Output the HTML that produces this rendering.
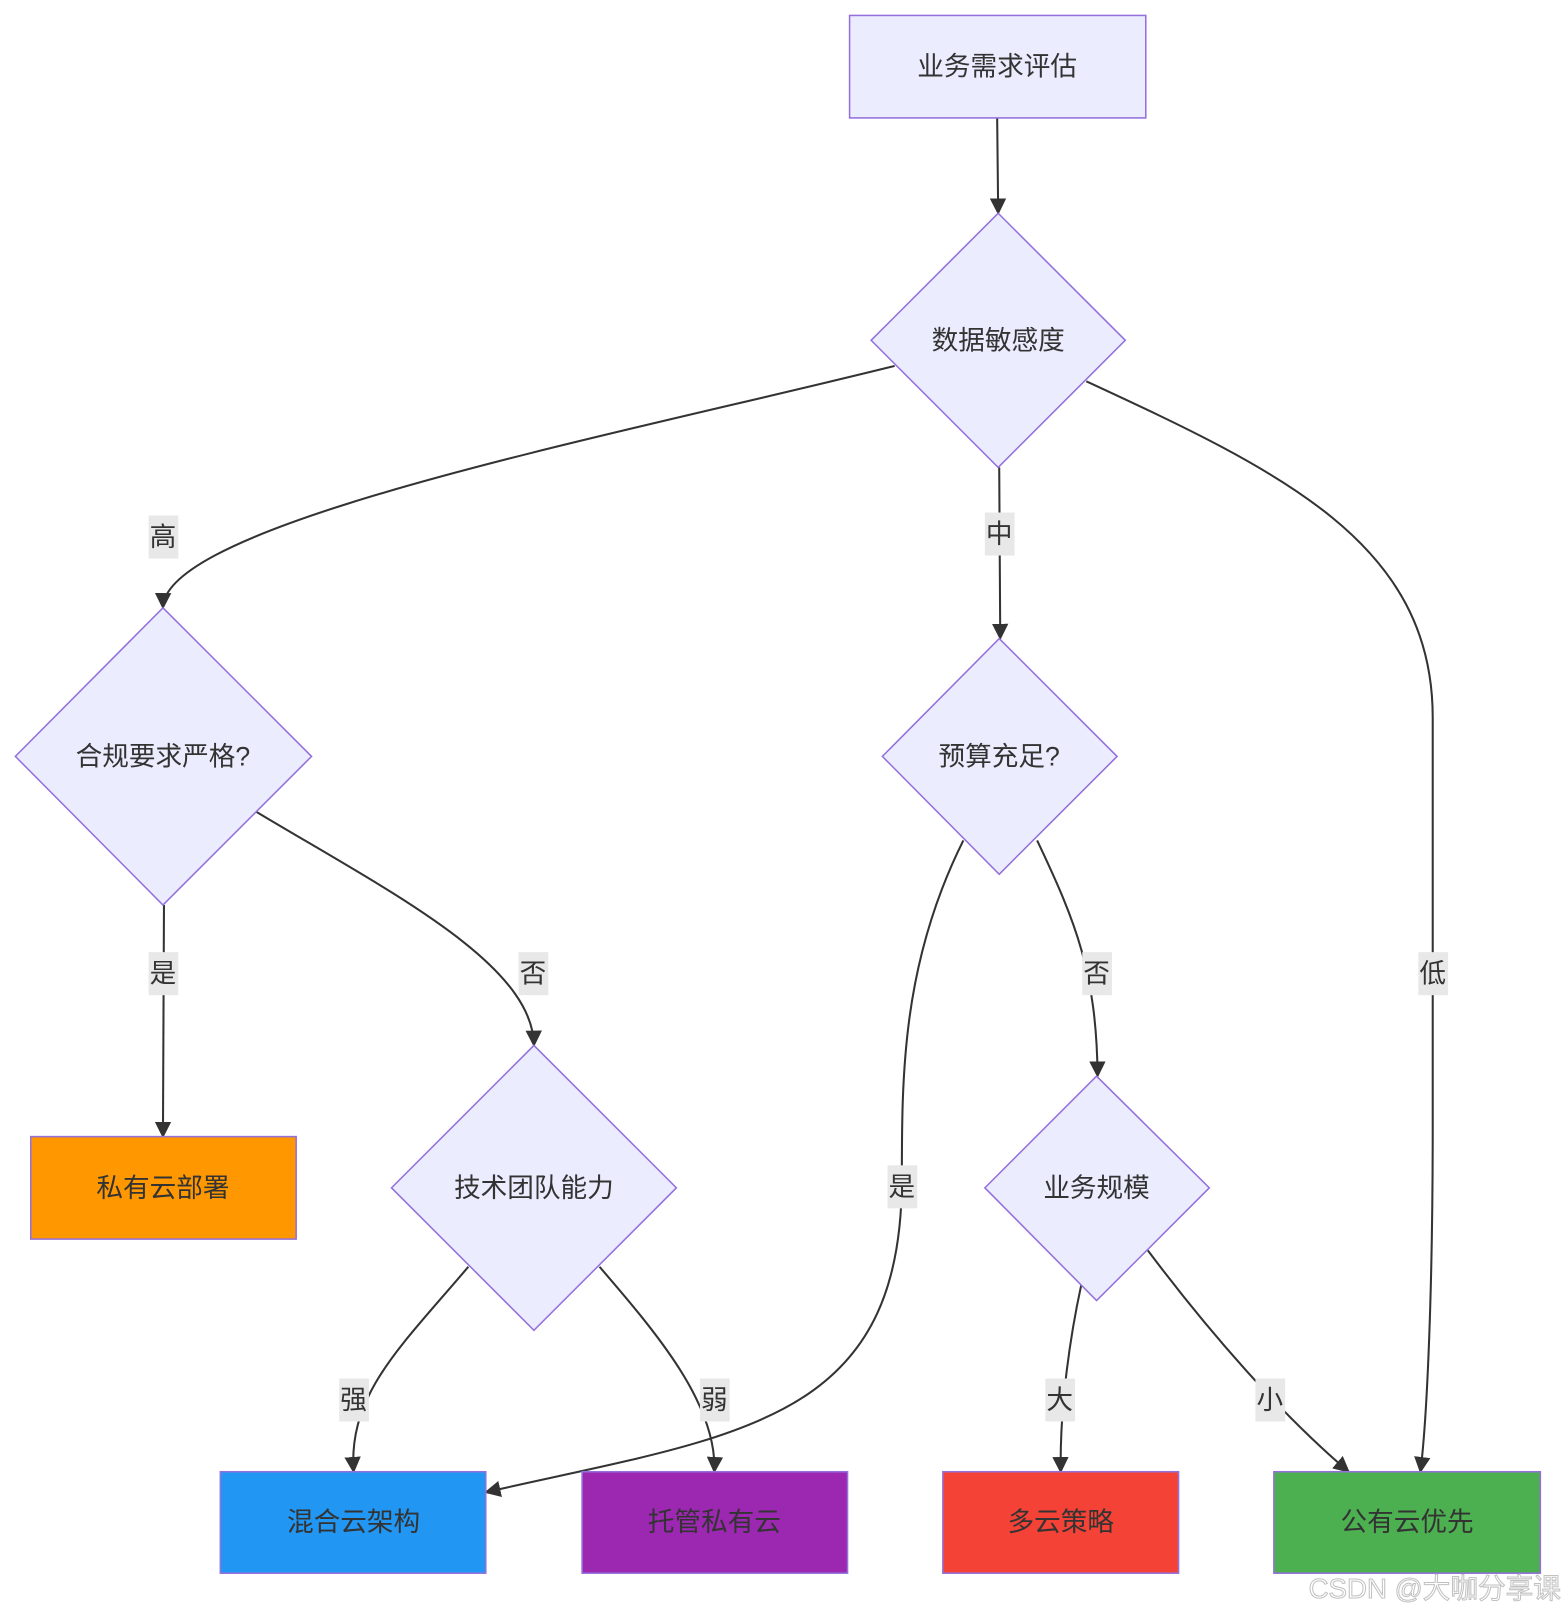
<!DOCTYPE html>
<html><head><meta charset="utf-8"><style>
html,body{margin:0;padding:0;background:#fff;}
svg{display:block;}
text{font-family:"Liberation Sans","Noto Sans CJK SC",sans-serif;fill:#333;}
</style></head><body>
<svg width="1568" height="1604" viewBox="0 0 1530 1565" xmlns="http://www.w3.org/2000/svg">
<defs><marker id="a" viewBox="0 0 10 10" refX="9" refY="5" markerWidth="8" markerHeight="8" orient="auto-start-reverse" markerUnits="userSpaceOnUse"><path d="M0,0L10,5L0,10z" fill="#333"/></marker>
<marker id="b" viewBox="0 0 10 10" refX="9" refY="5" markerWidth="16" markerHeight="16" orient="auto" markerUnits="userSpaceOnUse"><path d="M0,0L10,5L0,10z" fill="#333"/></marker></defs>
<g fill="none" stroke="#333" stroke-width="2" marker-end="url(#b)">
<path d="M973,115 L974,208"/>
<path d="M873,357 C600,425 160,510 159,593"/>
<path d="M975,456 L976,623"/>
<path d="M1060,372 C1250,460 1398,530 1398,700 L1398,1100 C1398,1250 1393,1380 1386,1436"/>
<path d="M160,883 L159,1109"/>
<path d="M250,792 C380,870 520,940 521,1020"/>
<path d="M940,820 C880,940 880,1050 880,1150 C880,1390 720,1400 474,1456"/>
<path d="M1012,820 C1050,900 1070,950 1071,1050"/>
<path d="M457,1236 C390,1315 340,1360 345,1436"/>
<path d="M585,1236 C640,1300 700,1370 697,1436"/>
<path d="M1055,1254 C1045,1300 1034,1370 1035,1436"/>
<path d="M1120,1220 C1180,1300 1250,1380 1316,1436"/>
</g>
<g stroke="#9370DB" stroke-width="1.5" fill="#ECECFF">
<rect x="829" y="15" width="289" height="100"/>
<path d="M974,208 L1098,332 L974,456 L850,332 Z"/>
<path d="M159,593 L304,738 L159,883 L15,738 Z"/>
<path d="M975,623 L1090,738 L975,853 L861,738 Z"/>
<path d="M521,1020 L660,1159 L521,1298 L382,1159 Z"/>
<path d="M1070,1050 L1180,1159 L1070,1269 L961,1159 Z"/>
<rect x="30" y="1109" width="259" height="100" fill="#FF9800"/>
<rect x="215" y="1436" width="259" height="99" fill="#2196F3"/>
<rect x="568" y="1436" width="259" height="99" fill="#9C27B0"/>
<rect x="920" y="1436" width="230" height="99" fill="#F44336"/>
<rect x="1243" y="1436" width="260" height="99" fill="#4CAF50"/>
</g>
<g font-size="26" text-anchor="middle" dominant-baseline="central">
<text x="973" y="65">业务需求评估</text>
<text x="974" y="332">数据敏感度</text>
<text x="159" y="738">合规要求严格?</text>
<text x="975" y="738">预算充足?</text>
<text x="521" y="1159">技术团队能力</text>
<text x="1070" y="1159">业务规模</text>
<text x="159" y="1159">私有云部署</text>
<text x="345" y="1485">混合云架构</text>
<text x="697" y="1485">托管私有云</text>
<text x="1035" y="1485">多云策略</text>
<text x="1373" y="1485">公有云优先</text>
</g>
<g fill="#e8e8e8">
<rect x="145" y="503" width="29" height="42"/>
<rect x="961" y="500" width="29" height="42"/>
<rect x="1384" y="929" width="29" height="42"/>
<rect x="145" y="929" width="29" height="42"/>
<rect x="506" y="929" width="29" height="42"/>
<rect x="866" y="1137" width="29" height="42"/>
<rect x="1056" y="929" width="29" height="42"/>
<rect x="331" y="1345" width="29" height="42"/>
<rect x="683" y="1345" width="29" height="42"/>
<rect x="1020" y="1345" width="29" height="42"/>
<rect x="1225" y="1345" width="29" height="42"/>
</g>
<g font-size="26" text-anchor="middle" dominant-baseline="central">
<text x="159" y="524">高</text>
<text x="975" y="521">中</text>
<text x="1398" y="950">低</text>
<text x="159" y="950">是</text>
<text x="520" y="950">否</text>
<text x="880" y="1158">是</text>
<text x="1070" y="950">否</text>
<text x="345" y="1366">强</text>
<text x="697" y="1366">弱</text>
<text x="1034" y="1366">大</text>
<text x="1239" y="1366">小</text>
</g>
<text x="1400" y="1550" font-size="27" text-anchor="middle" dominant-baseline="central" style="fill:#fff;stroke:#bbb;stroke-width:1;opacity:0.9">CSDN @大咖分享课</text>
</svg>
</body></html>
